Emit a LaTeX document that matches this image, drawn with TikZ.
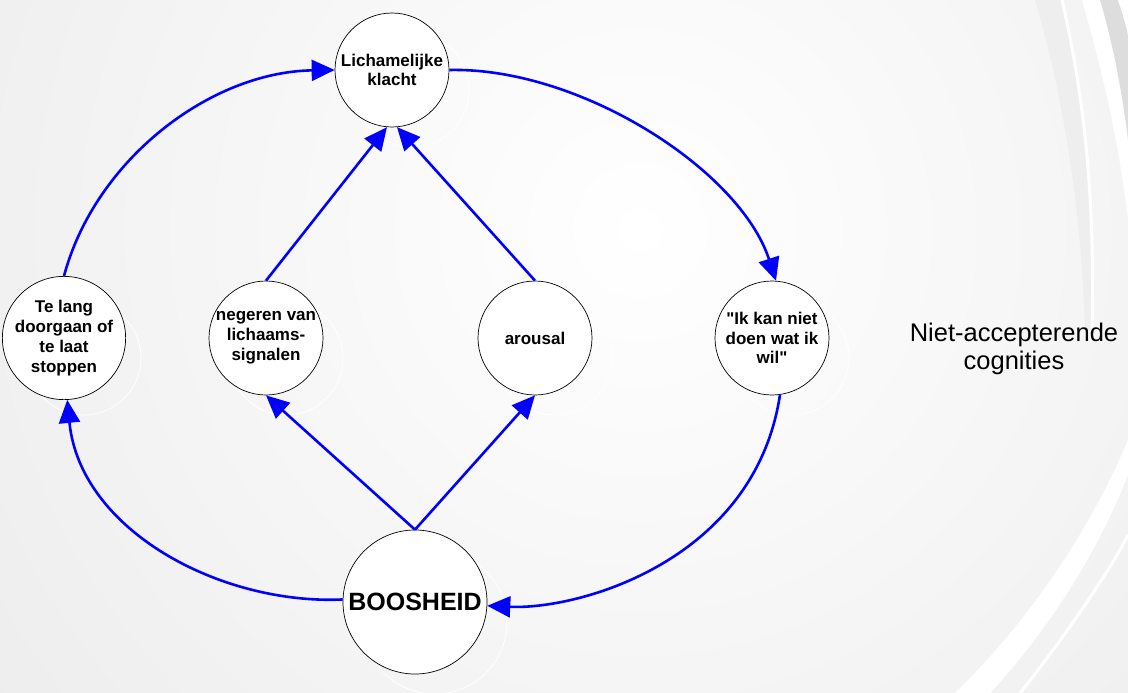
\documentclass[tikz,border=0pt]{standalone}
\usepackage{fontspec}
\setmainfont{Liberation Sans}[Ligatures=TeXOff]
\usetikzlibrary{arrows.meta}
\definecolor{arrowblue}{RGB}{0,0,255}
\definecolor{bgouter}{RGB}{226,226,226}
\definecolor{bgband}{RGB}{221,221,221}
\begin{document}
\begin{tikzpicture}[x=1pt,y=-1pt,
  state/.style={circle, draw=black, line width=0.7pt, fill=white, minimum size=114pt, inner sep=0pt, align=center, font=\bfseries\fontsize{17}{19.8}\selectfont},
  bigstate/.style={state, minimum size=144pt, font=\bfseries\fontsize{25}{29}\selectfont},
  ghost/.style={draw=white, line width=0.8pt},
  link/.style={draw=arrowblue, line width=2.6pt, -{Triangle[length=23pt,width=21pt]}},
  sidetext/.style={align=center, font=\fontsize{25.5}{28.5}\selectfont}
]
\useasboundingbox (0,0) rectangle (1128,693);
\fill[bgouter] (0,0) rectangle (1128,693);
\begin{scope}
\clip (0,0) rectangle (1128,693);
\shade[inner color=white, outer color=bgouter] (640,230) circle (1300);
% swooshes on the right
\fill[bgband!50!white] (1035,0) .. controls (1065,100) and (1082,220) .. (1085,330) -- (1092,330) .. controls (1095,200) and (1085,100) .. (1062,0) -- cycle;
\draw[white, line width=3pt] (1062,0) .. controls (1085,100) and (1095,200) .. (1092,330);
\fill[white] (1082,0) .. controls (1105,80) and (1120,150) .. (1128,220) -- (1128,0) -- cycle;
\fill[bgband] (1100,0) .. controls (1112,40) and (1122,90) .. (1128,140) -- (1128,0) -- cycle;
\fill[white] (1118,0) .. controls (1122,12) and (1126,25) .. (1128,35) -- (1128,0) -- cycle;
\fill[white] (955,693) .. controls (1030,620) and (1090,530) .. (1128,440) -- (1128,475) .. controls (1095,560) and (1040,640) .. (990,693) -- cycle;
\draw[white, line width=3pt] (1020,693) .. controls (1070,630) and (1110,570) .. (1128,535);
\end{scope}
% ghost outlines
\draw[ghost] (412,90) circle (57);
\draw[ghost] (84,358) circle (57);
\draw[ghost] (286,358) circle (57);
\draw[ghost] (555,358) circle (57);
\draw[ghost] (792,358) circle (57);
\draw[ghost] (435,622) circle (72);
% nodes
\node[state] (lich) at (392,70) {Lichamelijke\\klacht};
\node[state] (te) at (64,338) {Te lang\\doorgaan of\\te laat\\stoppen};
\node[state] (neg) at (266,338) {negeren van\\lichaams-\\signalen};
\node[state] (ar) at (535,338) {arousal};
\node[state] (ik) at (772,338) {"Ik kan niet\\doen wat ik\\wil"};
\node[bigstate] (boos) at (415,602) {BOOSHEID};
\node[sidetext] (nac) at (1014,349) {Niet-accepterende\\cognities};
% connectors
\draw[link] (te.north) .. controls (95,160) and (210,72) .. (lich.west);
\draw[link] (lich.east) .. controls (580,67) and (740,170) .. (ik.86);
\draw[link] (ik.278) .. controls (755,560) and (580,610) .. (boos.357);
\draw[link] (boos.178) .. controls (220,605) and (80,530) .. (te.273);
\draw[link] (neg.north) -- (lich.265);
\draw[link] (ar.north) -- (lich.275);
\draw[link] (boos.north) -- (neg.south);
\draw[link] (boos.north) -- (ar.south);
\end{tikzpicture}
\end{document}
